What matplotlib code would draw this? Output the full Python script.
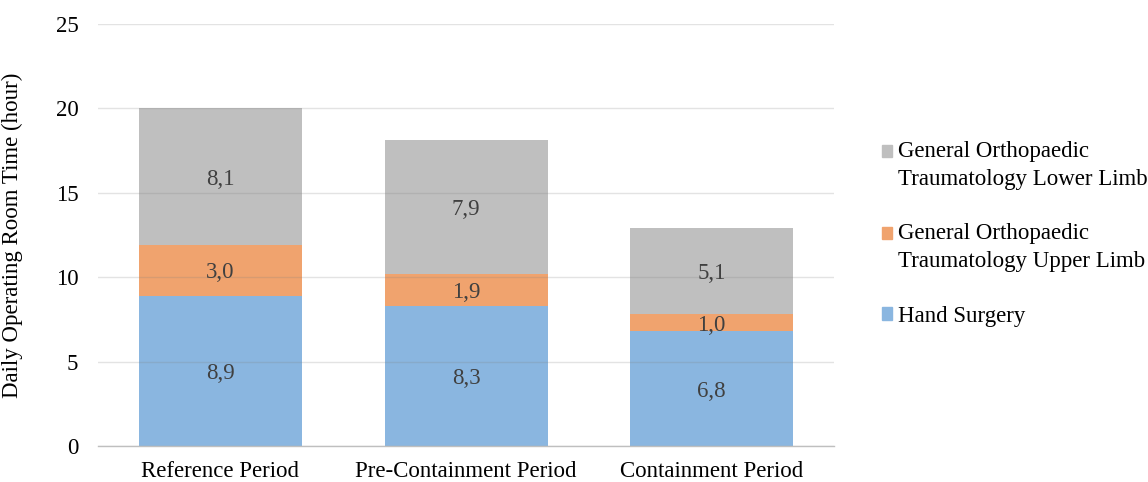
import matplotlib
matplotlib.use('Agg')
import matplotlib.pyplot as plt
import matplotlib.patches as mpatches
from matplotlib.legend_handler import HandlerPatch
import numpy as np

# ==================== data ====================
periods = ['Reference Period', 'Pre-Containment Period', 'Containment Period']
hand_surgery = [8.9, 8.3, 6.8]
upper_limb = [3.0, 1.9, 1.0]
lower_limb = [8.1, 7.9, 5.1]

series_names = ['Hand Surgery',
                'General Orthopaedic\nTraumatology Upper Limb',
                'General Orthopaedic\nTraumatology Lower Limb']
series_colors = ['#8AB6E0', '#F0A36E', '#BFBFBF']
y_ticks = [0, 5, 10, 15, 20, 25]

plt.rcParams['font.family'] = 'serif'
plt.rcParams['font.serif'] = ['Liberation Serif', 'DejaVu Serif']
FS = 16.5
LS = 1.44
SHIFT_PT = 10.5  # 方块上移量（点）


# 图例方块对齐第一行（多行标签时上移）
class TopHandler(HandlerPatch):
    def __init__(self, shift=0.0, **kw):
        super().__init__(**kw)
        self.shift = shift

    def create_artists(self, legend, orig_handle, xdescent, ydescent, width, height, fontsize, trans):
        p = mpatches.Rectangle((-xdescent, -ydescent + self.shift), width, height)
        self.update_prop(p, orig_handle, legend)
        p.set_transform(trans)
        return [p]


fig = plt.figure(figsize=(11.48, 4.82), dpi=100)
ax = fig.add_axes([0.0851, 0.0747, 0.6418, 0.8755])

x = np.arange(len(periods))
bottom = np.zeros(len(periods))
for vals, name, col in zip([hand_surgery, upper_limb, lower_limb], series_names, series_colors):
    vals = np.array(vals)
    ax.bar(x, vals, 0.664, bottom=bottom, color=col, label=name, zorder=2)
    for xi, v, b0 in zip(x, vals, bottom):
        ax.text(xi, b0 + v / 2, f'{v:.1f}'.replace('.', ','), ha='center', va='center_baseline',
                fontsize=FS, color='#404040', zorder=4)
    bottom = bottom + vals

ax.set_xlim(-0.5, len(periods) - 0.5)
ax.set_ylim(0, 25)
ax.set_yticks(y_ticks)
ax.set_xticks(x)
ax.set_xticklabels(periods)
ax.tick_params(axis='both', length=0, labelsize=FS)
ax.tick_params(axis='y', pad=14)
ax.tick_params(axis='x', pad=11)

ax.yaxis.grid(True, color='#808080', alpha=0.22, linewidth=1, zorder=3)
ax.set_axisbelow(False)
for s in ['top', 'right', 'left']:
    ax.spines[s].set_visible(False)
ax.spines['bottom'].set_color('#BFBFBF')
ax.spines['bottom'].set_linewidth(1)
ax.spines['bottom'].set_zorder(3)

ax.set_ylabel('Daily Operating Room Time (hour)', fontsize=FS)
ax.yaxis.set_label_coords(-0.1015, 0.5)

# legend: lower limb, upper limb, hand surgery
order = [2, 1, 0]
handles = [mpatches.Patch(color=series_colors[i]) for i in order]
labels = [series_names[i] for i in order]
hmap = {h: TopHandler(SHIFT_PT if '\n' in lab else 0.0) for h, lab in zip(handles, labels)}
leg = fig.legend(handles, labels, loc='center left', bbox_to_anchor=(0.750, 0.515),
                 frameon=False, fontsize=FS, handlelength=0.45, handleheight=0.45,
                 handletextpad=0.25, labelspacing=1.45, handler_map=hmap)
for t in leg.get_texts():
    t.set_linespacing(LS)

plt.savefig('out.png', dpi=100)
